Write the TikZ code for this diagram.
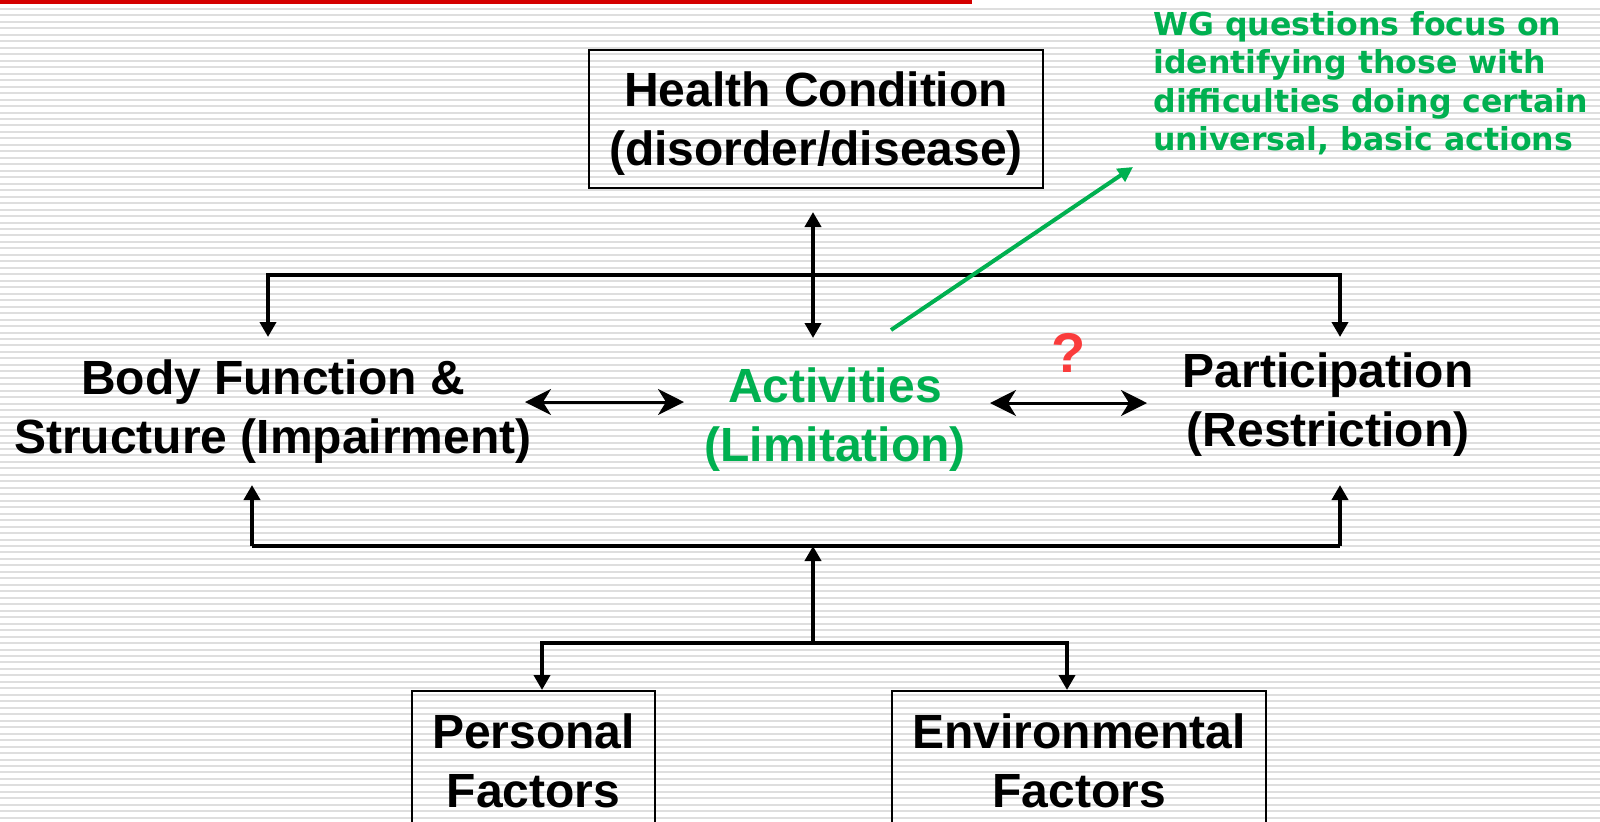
\documentclass[tikz,border=0pt]{standalone}
\usepackage{fontspec}
\setmainfont{Liberation Sans}
\newfontfamily\notefont{DejaVu Sans}
\usetikzlibrary{arrows.meta,calc}
\definecolor{icfgreen}{RGB}{0,176,80}
\definecolor{slidered}{RGB}{212,0,0}
\definecolor{askred}{RGB}{250,60,60}
\tikzstyle{term} = [align=center,inner sep=0pt,font=\fontsize{24}{29.5}\selectfont\bfseries]
\tikzstyle{boxed} = [term,draw,line width=1pt]
\tikzstyle{link} = [line width=2pt,-{Triangle[length=7.5pt,width=8pt]}]
\tikzstyle{twoway} = [line width=2pt,{Triangle[length=7.5pt,width=8pt]}-{Triangle[length=7.5pt,width=8pt]}]
\tikzstyle{sidearrow} = [line width=1.5pt,{Stealth[length=13pt,width=13pt,inset=4pt]}-{Stealth[length=13pt,width=13pt,inset=4pt]}]
\tikzstyle{greenarrow} = [line width=2pt,icfgreen,-{Triangle[length=7.5pt,width=7.5pt]}]
\tikzstyle{stripe} = [line width=1pt,black!13]

\begin{document}
\begin{tikzpicture}[x=0.5pt,y=-0.5pt]
  \useasboundingbox (0,0) rectangle (1600,821);
  \clip (0,0) rectangle (1600,821);
  % slide background
  \fill[white] (0,0) rectangle (1600,821);
  \foreach \k in {0,...,126}
    \draw[stripe] (0,9+6.47*\k) -- (1600,9+6.47*\k);
  \fill[slidered] (0,0) rectangle (972,3.5);

  % the model
  \node[boxed,minimum width=227pt,minimum height=69pt,text depth=-0.5pt] (hc) at (816,119) {Health Condition\\(disorder/disease)};
  \node[term] (body) at (273,412) {Body Function \&\\Structure (Impairment)};
  \node[term,text=icfgreen] (act) at (835,420) {Activities\\(Limitation)};
  \node[term] (part) at (1328,405) {Participation\\(Restriction)};
  \node[boxed,anchor=north,minimum width=121.5pt,inner ysep=11.5pt,text depth=30pt] (pers) at (533.5,690) {Personal\\Factors};
  \node[boxed,anchor=north,minimum width=187pt,inner ysep=11.5pt,text depth=30pt] (env) at (1079,690) {Environmental\\Factors};
  \node[inner sep=0pt,text=askred,font=\fontsize{28}{34}\selectfont\bfseries] (ask) at (1069,353) {?};
  \node[anchor=north west,align=left,inner sep=0pt,text=icfgreen,font=\notefont\fontsize{15.8}{19.2}\selectfont\bfseries] (note) at (1153,11)
    {WG questions focus on\\identifying those with\\difficulties doing certain\\universal, basic actions};

  % junctions
  \coordinate (hcin) at (813,212);
  \coordinate (hcout) at (813,338);
  \coordinate (tl) at (268,275);
  \coordinate (tr) at (1340,275);
  \coordinate (upper) at (0,337);
  \coordinate (bl) at (252,546);
  \coordinate (br) at (1340,546);
  \coordinate (lower) at (0,485);
  \coordinate (fork) at (813,643);
  \coordinate (fl) at (542,643);
  \coordinate (fr) at (1067,643);
  \coordinate (bodyr) at (525,402);
  \coordinate (actl) at (684,402);
  \coordinate (actr) at (990,403);
  \coordinate (partl) at (1147,403);
  \coordinate (actup) at (891,330);
  \coordinate (notein) at (1133,167);

  \draw[twoway] (hcin) -- (hcout);
  \draw[link] (tr) -- (tl) -- (tl |- upper);
  \draw[link] (tl) -- (tr) -- (tr |- upper);
  \draw[line width=2pt] (bl) -- (br);
  \draw[link] (bl) -- (bl |- lower);
  \draw[link] (br) -- (br |- lower);
  \draw[link] (fork) -- (fork |- bl);
  \draw[link] (fr) -- (fl) -- (fl |- pers.north);
  \draw[link] (fl) -- (fr) -- (fr |- env.north);
  \draw[sidearrow] (bodyr) -- (actl);
  \draw[sidearrow] (actr) -- (partl);
  \draw[greenarrow] (actup) -- (notein);
\end{tikzpicture}
\end{document}
